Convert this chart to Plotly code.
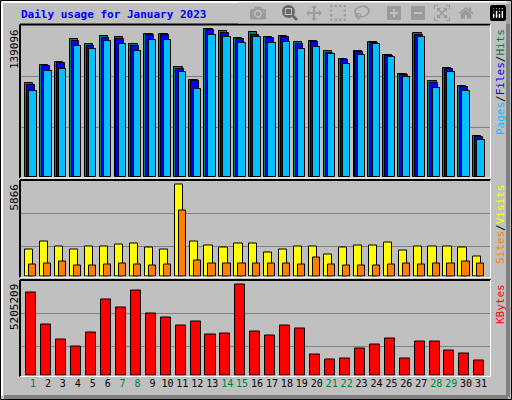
import plotly.graph_objects as go

days = list(range(1, 32))
hits = [88080,105000,108100,129440,125020,132260,131320,125020,134420,134420,103120,91180,139096,136960,130660,136020,131320,132260,126620,127560,118160,110640,118160,126620,114400,96540,135080,90240,102180,85260,38540]
files = [86200,104060,106880,127560,123420,130380,129440,122860,133200,133200,101800,89960,137900,135360,129720,133760,130380,131600,124740,126620,116840,109700,117220,125960,113460,95600,133760,88360,101240,84320,37320]
pages = [80840,99640,101520,122860,120040,127840,125020,118440,128500,128500,98700,82720,133480,131600,125960,131320,125680,126620,120040,121920,115340,105940,114400,124740,112520,93720,131320,83380,98700,80560,34500]
visits = [1728,2237,1940,1728,1940,1940,2046,2109,1855,1728,5866,2237,1982,1855,2109,2109,1537,1728,1940,1940,1410,1855,1982,1982,2173,1664,1940,1940,1940,1855,1283]
sites = [774,837,965,710,710,774,837,774,710,774,4208,1028,837,837,837,837,837,837,774,1219,774,710,710,710,774,837,774,837,837,965,837]
kbytes = [4750000,2911000,2057500,1659300,2455700,4333000,3878000,4845000,3536600,3309000,2854000,3081500,2342000,2398800,5205209,2512600,2285000,2854000,2683300,1204200,919700,976600,1545500,1773000,2114400,976600,1943700,1943700,1431700,1261000,862800]
weekend = {1,7,8,14,15,21,22,28,29}
max_labels = ["139096", "5866", "5205209"]

BG = "#C0C0C0"
MONO = "DejaVu Sans Mono"
fig = go.Figure()

def bar(y, color, off, w, ax):
    fig.add_trace(go.Bar(x=days, y=y, marker=dict(color=color, line=dict(color="black", width=1)),
                         offset=off, width=w, xaxis="x" + ax, yaxis="y" + ax, showlegend=False))

bar(hits, "#008060", -0.54, 0.56, "")
bar(files, "#0000FF", -0.41, 0.52, "")
bar(pages, "#00C0FF", -0.25, 0.49, "")
bar(visits, "#FFFF00", -0.52, 0.55, "2")
bar(sites, "#FF8000", -0.25, 0.48, "2")
bar(kbytes, "#FF0000", -0.45, 0.67, "3")

xr = [0.13, 31.6]
xd = [20/512, 490/512]
ticktext = [f'<span style="color:{"#008040" if d in weekend else "black"}">{d}</span>' for d in days]
common_x = dict(range=xr, domain=xd, showgrid=False, zeroline=False, showline=False)
grid = dict(showgrid=True, gridcolor="#808080", gridwidth=1, zeroline=False, showticklabels=False, ticks="")
fig.update_layout(
    width=512, height=400, margin=dict(l=0, r=0, t=0, b=0),
    paper_bgcolor=BG, plot_bgcolor=BG, barmode="overlay", bargap=0,
    xaxis=dict(**common_x, anchor="y", showticklabels=False),
    xaxis2=dict(**common_x, anchor="y2", showticklabels=False, matches="x"),
    xaxis3=dict(**common_x, anchor="y3", tickvals=days, ticktext=ticktext, ticks="", tickangle=0,
                ticklen=0, automargin=False,
                tickfont=dict(family=MONO, size=10, color="black"), matches="x"),
    yaxis=dict(domain=[1-177/400, 1-25/400], range=[0, 142880], tickvals=[47000, 94940], **grid),
    yaxis2=dict(domain=[1-276.5/400, 1-180.5/400], range=[0, 6106], tickvals=[1921, 4020], **grid),
    yaxis3=dict(domain=[1-375.5/400, 1-280.5/400], range=[0, 5404500], tickvals=[1661000, 3538500], **grid),
)

shapes = []
def ln(x0, y0, x1, y1, c, w=1):
    shapes.append(dict(type="line", xref="paper", yref="paper", x0=x0/512, x1=x1/512,
                       y0=1-y0/400, y1=1-y1/400, line=dict(color=c, width=w)))
ln(0.5, 0.5, 511.5, 0.5, "black"); ln(0.5, 0.5, 0.5, 399.5, "black")
ln(511.5, 0.5, 511.5, 399.5, "black"); ln(0.5, 399.5, 511.5, 399.5, "black")
ln(508, 4, 508, 397, "#808080", 4); ln(4, 397, 508, 397, "#808080", 4)
ln(2, 2, 507, 2, "white", 2); ln(2, 2, 2, 396, "white", 2)
for top, bot in [(24.5, 178), (180, 277.5), (280, 376.5)]:
    ln(20, top, 490.5, top, "black", 2); ln(20, top, 20, bot, "black", 2)
    ln(490.5, top, 490.5, bot, "white", 1); ln(20, bot, 490.5, bot, "white", 1)
fig.update_layout(shapes=shapes)

ann = [
    dict(x=19/512, y=1-14/400, text="<b>Daily usage for January 2023</b>", xanchor="left", yanchor="middle",
         font=dict(family=MONO, size=11, color="#0000FF"), textangle=0),
    dict(x=14/512, y=1-27/400, text=max_labels[0], xanchor="center", yanchor="top", textangle=-90,
         font=dict(family=MONO, size=11, color="black")),
    dict(x=14/512, y=1-182/400, text=max_labels[1], xanchor="center", yanchor="top", textangle=-90,
         font=dict(family=MONO, size=11, color="black")),
    dict(x=14/512, y=1-282/400, text=max_labels[2], xanchor="center", yanchor="top", textangle=-90,
         font=dict(family=MONO, size=11, color="black")),
    dict(x=500/512, y=1-27/400, yanchor="top", xanchor="center", textangle=-90,
         text='<span style="color:#00C0FF">Pages</span>/<span style="color:#0000FF">Files</span>/<span style="color:#008040">Hits</span>',
         font=dict(family=MONO, size=11, color="black")),
    dict(x=500/512, y=1-182/400, yanchor="top", xanchor="center", textangle=-90,
         text='<span style="color:#FF8000">Sites</span>/<span style="color:#FFFF00">Visits</span>',
         font=dict(family=MONO, size=11, color="black")),
    dict(x=500/512, y=1-282/400, yanchor="top", xanchor="center", textangle=-90,
         text='<span style="color:#FF0000">KBytes</span>',
         font=dict(family=MONO, size=11, color="black")),
]
for a in ann:
    a.update(xref="paper", yref="paper", showarrow=False)
fig.update_layout(annotations=ann)
fig.write_html("out.html", post_script="document.body.style.margin='0';document.body.style.overflow='hidden';")
